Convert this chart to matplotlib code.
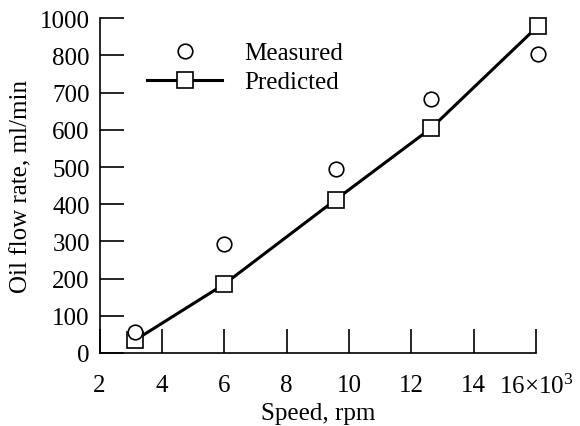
import matplotlib
matplotlib.use("Agg")
import matplotlib.pyplot as plt

# speed in 10^3 rpm, oil flow in ml/min
speed = [3.15, 6.0, 9.57, 12.63, 16.05]
measured = [57, 294, 496, 683, 803]
predicted = [35, 185, 412, 604, 878]

xticks = [2, 4, 6, 8, 10, 12, 14, 16]
xticklabels = ["2", "4", "6", "8", "10", "12", "14", "16\u00d710$^3$"]
yticks = [0, 100, 200, 300, 400, 500, 600, 700, 800, 900]
yticklabels = ["0", "100", "200", "300", "400", "500", "600", "700", "800", "1000"]

plt.rcParams['font.family'] = ['Liberation Serif', 'DejaVu Serif']
plt.rcParams['mathtext.fontset'] = 'custom'
plt.rcParams['mathtext.rm'] = 'Liberation Serif'
plt.rcParams['mathtext.it'] = 'Liberation Serif:italic'

FS = 18

fig = plt.figure(figsize=(5.8, 4.27), dpi=100)
ax = fig.add_axes([99.5/580, 73/427, (536-99.5)/580, (354-19.3)/427])

ax.plot(speed, measured, linestyle='none', marker='o', ms=10.5, mfc='white',
        mec='black', mew=1.2, label='Measured', clip_on=False, zorder=4)
ax.plot(speed, predicted, color='black', lw=2.2, marker='s', ms=11, mfc='white',
        mec='black', mew=1.2, label='Predicted', clip_on=False, zorder=3)

ax.set_xlim(2, 16)
ax.set_ylim(0, 900)
ax.set_xticks(xticks)
ax.set_xticklabels(xticklabels)
ax.set_yticks(yticks)
ax.set_yticklabels(yticklabels)

ax.spines['top'].set_visible(False)
ax.spines['right'].set_visible(False)
ax.spines['left'].set_linewidth(1.2)
ax.spines['bottom'].set_linewidth(1.2)
ax.tick_params(direction='in', length=17, width=1.2, labelsize=FS)
ax.tick_params(axis='x', pad=15)
ax.tick_params(axis='y', pad=7)

ax.set_xlabel('Speed, rpm', fontsize=FS, labelpad=3)
ax.set_ylabel('Oil flow rate, ml/min', fontsize=FS, labelpad=5)

ax.legend(loc='upper left', bbox_to_anchor=(147/580, 1 - 43/427),
          bbox_transform=fig.transFigure, frameon=False, fontsize=FS,
          handlelength=3.0, handletextpad=0.9, labelspacing=0.25,
          borderpad=0, borderaxespad=0)

fig.savefig('out.png', dpi=100)
